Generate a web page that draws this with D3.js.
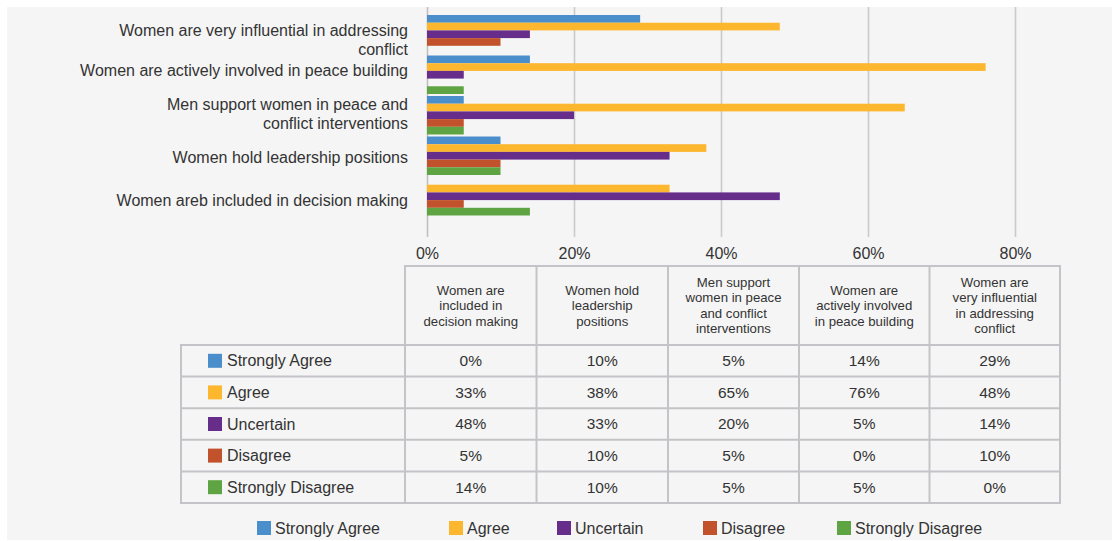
<!DOCTYPE html>
<html>
<head>
<meta charset="utf-8">
<script src="https://cdn.jsdelivr.net/npm/d3@7"></script>
<style>
  html, body { margin: 0; padding: 0; background: #ffffff; }
  svg { display: block; font-family: "Liberation Sans", Arial, sans-serif; }
</style>
</head>
<body>
<svg id="chart" width="1112" height="541"></svg>
<script>
// Statements, in table column order
const statements = [
  "Women are included in decision making",
  "Women hold leadership positions",
  "Men support women in peace and conflict interventions",
  "Women are actively involved in peace building",
  "Women are very influential in addressing conflict"
];
// Axis labels for the same statements (as printed on the chart, wrapped)
const axisLabels = [
  ["Women areb included in decision making"],
  ["Women hold leadership positions"],
  ["Men support women in peace and", "conflict interventions"],
  ["Women are actively involved in peace building"],
  ["Women are very influential in addressing", "conflict"]
];
// Table header text, wrapped
const headerLines = [
  ["Women are", "included in", "decision making"],
  ["Women hold", "leadership", "positions"],
  ["Men support", "women in peace", "and conflict", "interventions"],
  ["Women are", "actively involved", "in peace building"],
  ["Women are", "very influential", "in addressing", "conflict"]
];

const seriesNames = ["Strongly Agree", "Agree", "Uncertain", "Disagree", "Strongly Disagree"];
const seriesColors = ["#4a8ecb", "#fdb72e", "#662d8a", "#c2522b", "#5ea443"];

// Percentages per statement
const stronglyAgree    = [0, 10, 5, 14, 29];
const agree            = [33, 38, 65, 76, 48];
const uncertain        = [48, 33, 20, 5, 14];
const disagree         = [5, 10, 5, 0, 10];
const stronglyDisagree = [14, 10, 5, 5, 0];

const xTicks = [0, 20, 40, 60, 80];

const seriesValues = [stronglyAgree, agree, uncertain, disagree, stronglyDisagree];

const svg = d3.select("#chart");
const textColor = "#333333";
const gridColor = "#cacaca";
const tableColor = "#c4c4c8";

// Background panel
svg.append("rect").attr("x", 7).attr("y", 7).attr("width", 1105).attr("height", 533).attr("fill", "#f5f5f5");

// Scales
const x = d3.scaleLinear().domain([0, 80]).range([427, 1015]);
const order = d3.range(statements.length).reverse(); // top group = last statement
const y = d3.scaleBand().domain(order).range([14, 216.5]).paddingInner(0.05).paddingOuter(0.025);
const ySub = d3.scaleBand().domain(d3.range(seriesNames.length)).range([0, y.bandwidth()]);

// Gridlines and axis labels
const axis = d3.axisBottom(x).tickValues(xTicks).tickSize(0).tickFormat(d => d + "%");
const gAxis = svg.append("g").attr("transform", "translate(0,237)").call(axis);
gAxis.select(".domain").remove();
gAxis.selectAll(".tick line").remove();
gAxis.selectAll(".tick").append("line")
  .attr("x1", 0).attr("x2", 0).attr("y1", -230).attr("y2", 0)
  .attr("stroke", (d, i) => i === 0 ? "#c0c0c0" : gridColor).attr("stroke-width", 1.6);
gAxis.selectAll(".tick text")
  .attr("y", 16).attr("dy", "0.35em")
  .attr("fill", textColor).attr("font-size", 16).attr("font-family", "Liberation Sans, Arial, sans-serif");

// Bars
const groups = svg.append("g").selectAll("g").data(order).join("g")
  .attr("transform", d => `translate(0,${y(d)})`);
groups.selectAll("rect")
  .data(ci => seriesValues.map((vals, si) => ({ si, v: vals[ci] })))
  .join("rect")
  .attr("x", x(0))
  .attr("y", d => ySub(d.si))
  .attr("height", ySub.bandwidth())
  .attr("width", d => x(d.v) - x(0))
  .attr("fill", d => seriesColors[d.si]);

// Category labels (small vertical nudges per row keep wrapped labels clear of neighbours)
const labelNudge = [2, 0, -3, -6, 4];
const catG = svg.append("g");
order.forEach(ci => {
  const lines = axisLabels[ci];
  const cy = y(ci) + y.bandwidth() / 2 + 2 + labelNudge[ci];
  const lh = 19;
  const t = catG.append("text")
    .attr("text-anchor", "end")
    .attr("fill", textColor)
    .attr("font-size", 16);
  lines.forEach((ln, k) => {
    t.append("tspan")
      .attr("x", 408)
      .attr("y", cy + (k - (lines.length - 1) / 2) * lh)
      .attr("dy", "0.35em")
      .text(ln);
  });
});

// Data table
const colEdges = [405, 536.5, 668, 799, 929.5, 1060];
const rowEdges = [266, 345, 376.6, 408.2, 439.8, 471.4, 503];
const tableLeft = 181;
const tg = svg.append("g");

// Header cells
headerLines.forEach((lines, ci) => {
  const cx = (colEdges[ci] + colEdges[ci + 1]) / 2;
  const cy = (rowEdges[0] + rowEdges[1]) / 2;
  const t = tg.append("text").attr("text-anchor", "middle").attr("fill", textColor).attr("font-size", 13.2);
  lines.forEach((ln, k) => {
    t.append("tspan").attr("x", cx)
      .attr("y", cy + (k - (lines.length - 1) / 2) * 15.5)
      .attr("dy", "0.35em").text(ln);
  });
});

// Body rows
seriesNames.forEach((name, si) => {
  const cy = (rowEdges[si + 1] + rowEdges[si + 2]) / 2;
  tg.append("rect").attr("x", 208).attr("y", cy - 7).attr("width", 14).attr("height", 14).attr("fill", seriesColors[si]);
  tg.append("text").attr("x", 227).attr("y", cy).attr("dy", "0.35em")
    .attr("fill", textColor).attr("font-size", 16).text(name);
  seriesValues[si].forEach((v, ci) => {
    tg.append("text")
      .attr("x", (colEdges[ci] + colEdges[ci + 1]) / 2)
      .attr("y", cy).attr("dy", "0.35em")
      .attr("text-anchor", "middle").attr("fill", textColor).attr("font-size", 15.5)
      .text(v + "%");
  });
});

// Table grid lines
const lineAttrs = sel => sel.attr("stroke", tableColor).attr("stroke-width", 2);
colEdges.forEach(xe => lineAttrs(tg.append("line").attr("x1", xe).attr("x2", xe).attr("y1", rowEdges[0]).attr("y2", rowEdges[rowEdges.length - 1])));
lineAttrs(tg.append("line").attr("x1", colEdges[0] - 1).attr("x2", colEdges[5] + 1).attr("y1", rowEdges[0]).attr("y2", rowEdges[0]));
rowEdges.slice(1).forEach(ye => lineAttrs(tg.append("line").attr("x1", tableLeft - 1).attr("x2", colEdges[5] + 1).attr("y1", ye).attr("y2", ye)));
lineAttrs(tg.append("line").attr("x1", tableLeft).attr("x2", tableLeft).attr("y1", rowEdges[1]).attr("y2", rowEdges[rowEdges.length - 1]));

// Bottom legend
const legendX = [257, 449, 557, 703, 837];
const lg = svg.append("g");
seriesNames.forEach((name, si) => {
  lg.append("rect").attr("x", legendX[si]).attr("y", 521).attr("width", 14).attr("height", 14).attr("fill", seriesColors[si]);
  lg.append("text").attr("x", legendX[si] + 18).attr("y", 528).attr("dy", "0.35em")
    .attr("fill", textColor).attr("font-size", 16).text(name);
});
</script>
</body>
</html>
